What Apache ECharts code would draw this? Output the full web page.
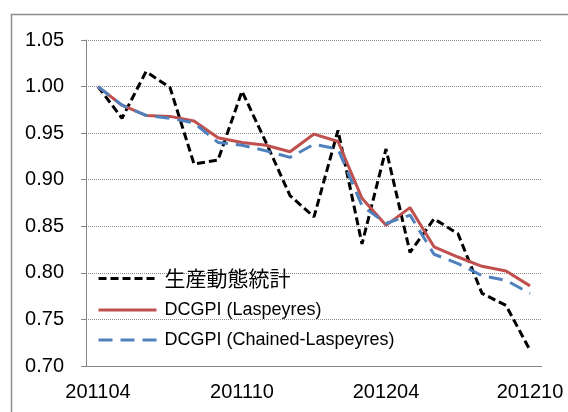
<!DOCTYPE html>
<html>
<head>
<meta charset="utf-8">
<script src="https://cdn.jsdelivr.net/npm/echarts@6/dist/echarts.min.js"></script>
<style>
  html, body { margin: 0; padding: 0; background: #fff; }
  #chart { width: 568px; height: 412px; }
</style>
</head>
<body>
<div id="chart"></div>
<script>
// monthly categories
const months = ['201104', '201105', '201106', '201107', '201108', '201109', '201110',
  '201111', '201112', '201201', '201202', '201203', '201204', '201205', '201206',
  '201207', '201208', '201209', '201210']

const seisan = [1.000, 0.966, 1.016, 0.999, 0.917, 0.921, 0.995, 0.940, 0.883, 0.860,
  0.953, 0.831, 0.933, 0.822, 0.858, 0.842, 0.778, 0.765, 0.717]
const laspeyres = [1.000, 0.980, 0.969, 0.968, 0.963, 0.945, 0.940, 0.937, 0.930, 0.949,
  0.941, 0.880, 0.851, 0.870, 0.828, 0.817, 0.807, 0.802, 0.786]
const chained = [1.000, 0.980, 0.969, 0.966, 0.961, 0.940, 0.937, 0.931, 0.924, 0.938,
  0.933, 0.872, 0.853, 0.862, 0.820, 0.810, 0.797, 0.792, 0.778]

const seriesNames = ['生産動態統計', 'DCGPI (Laspeyres)', 'DCGPI (Chained-Laspeyres)']

const chart = echarts.init(document.getElementById('chart'))
const font = '"Liberation Sans", "Noto Sans CJK JP", sans-serif'

const option = {
  animation: false,
  textStyle: { fontFamily: font },
  graphic: [
    {
      type: 'rect',
      shape: { x: 11.5, y: 14.5, width: 700, height: 500 },
      style: { fill: 'none', stroke: '#8c8c8c', lineWidth: 1.5 },
      silent: true
    }
  ],
  grid: { left: 86, right: 26, top: 40, bottom: 46 },
  legend: {
    orient: 'vertical',
    left: 97,
    top: 268,
    padding: 0,
    itemWidth: 58,
    itemHeight: 20,
    itemGap: 12,
    itemStyle: { opacity: 0 },
    lineStyle: { width: 3 },
    data: seriesNames,
    formatter: name => /[^\x00-\x7f]/.test(name) ? '{jp|' + name + '}' : name,
    textStyle: {
      fontFamily: font,
      fontSize: 18,
      color: '#000',
      padding: [0, 0, 0, 3],
      rich: {
        jp: { fontFamily: '"Noto Sans CJK JP", sans-serif', fontSize: 21, color: '#000' }
      }
    }
  },
  xAxis: {
    type: 'category',
    data: months,
    boundaryGap: true,
    axisLine: { lineStyle: { color: '#868686', width: 1 } },
    axisTick: { interval: 0, length: 5, lineStyle: { color: '#868686' } },
    axisLabel: { interval: 5, margin: 16, fontSize: 20, color: '#000', fontFamily: font }
  },
  yAxis: {
    type: 'value',
    min: 0.7,
    max: 1.05,
    interval: 0.05,
    axisLine: { show: true, lineStyle: { color: '#868686', width: 1 } },
    axisTick: { show: true, length: 5, lineStyle: { color: '#868686' } },
    axisLabel: {
      margin: 22, fontSize: 20, color: '#000', fontFamily: font,
      formatter: v => v.toFixed(2)
    },
    splitLine: { lineStyle: { type: 'dotted', color: '#8c8c8c', width: 1 } }
  },
  series: [
    {
      name: seriesNames[0],
      type: 'line',
      data: seisan,
      symbol: 'none',
      lineStyle: { color: '#000', width: 3, type: [8, 4] },
      itemStyle: { color: '#000' }
    },
    {
      name: seriesNames[1],
      type: 'line',
      data: laspeyres,
      symbol: 'none',
      lineStyle: { color: '#C0504D', width: 3 },
      itemStyle: { color: '#C0504D' }
    },
    {
      name: seriesNames[2],
      type: 'line',
      data: chained,
      symbol: 'none',
      lineStyle: { color: '#4F81BD', width: 3, type: [14, 8] },
      itemStyle: { color: '#4F81BD' }
    }
  ]
}

chart.setOption(option)
</script>
</body>
</html>
